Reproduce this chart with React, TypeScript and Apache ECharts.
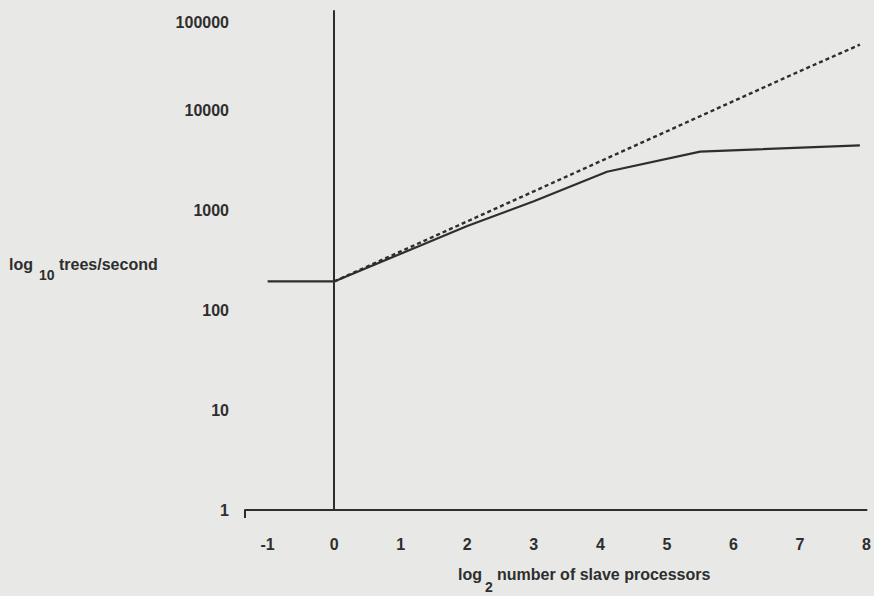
import React, { useEffect, useRef } from "react";
import * as echarts from "echarts";

// log2 number of slave processors
const measuredX = [-1, 0, 1, 2, 3, 4.1, 5.5, 7.9];
// trees/second actually measured (solid)
const measuredY = [195, 195, 370, 700, 1240, 2450, 3900, 4500];
// ideal linear speed-up (dashed)
const idealX = [0, 1, 2, 3, 4, 5, 6, 7, 7.9];
const idealY = [195, 390, 780, 1560, 3120, 6240, 12500, 25000, 46000];

const xTickLabels = [-1, 0, 1, 2, 3, 4, 5, 6, 7, 8];
const yTickLabels = [1, 10, 100, 1000, 10000, 100000];
const dividerX = [0];

const INK = "#2e2e2e";
const BG = "#e8e8e6";
const FONT = "'Liberation Sans', Arial, sans-serif";

export default function App() {
  const ref = useRef<HTMLDivElement>(null);
  useEffect(() => {
    if (!ref.current) return;
    document.body.style.margin = "0";
    document.body.style.background = BG;
    const chart = echarts.init(ref.current, null, { renderer: "svg" });
    const solid = measuredX.map((x, i) => [x, measuredY[i]]);
    const dashed = idealX.map((x, i) => [x, idealY[i]]);
    const txt = (text: string, x: number, y: number, size = 16) => ({
      type: "text",
      left: x,
      top: y,
      style: {
        text,
        fill: INK,
        font: `bold ${size}px ${FONT}`,
      },
    });
    chart.setOption({
      animation: false,
      backgroundColor: BG,
      grid: { left: 245, right: 1, top: 11, bottom: 86, containLabel: false },
      xAxis: {
        type: "value",
        min: -1.34,
        max: 8,
        axisLine: { show: true, lineStyle: { color: INK, width: 2 } },
        axisTick: {
          show: true,
          customValues: [-1.34],
          length: 8,
          lineStyle: { color: INK, width: 2 },
        },
        splitLine: { show: false },
        axisLabel: {
          customValues: xTickLabels,
          margin: 26,
          color: INK,
          fontSize: 16,
          fontWeight: "bold",
          fontFamily: FONT,
          formatter: (v: number) => String(v),
        },
      },
      yAxis: {
        type: "log",
        logBase: 10,
        min: 1,
        max: 100000,
        axisLine: { show: true, lineStyle: { color: INK, width: 2 } },
        axisTick: {
          show: true,
          customValues: [1],
          length: 8,
          lineStyle: { color: INK, width: 2 },
        },
        splitLine: { show: false },
        axisLabel: {
          customValues: yTickLabels,
          margin: 16,
          color: INK,
          fontSize: 16,
          fontWeight: "bold",
          fontFamily: FONT,
          formatter: (v: number) =>
            v === 100000 ? "{top|" + v + "}" : "{n|" + v + "}",
          rich: {
            top: {
              padding: [22, 0, 0, 0],
              color: INK,
              fontSize: 16,
              fontWeight: "bold",
              fontFamily: FONT,
            },
            n: { color: INK, fontSize: 16, fontWeight: "bold", fontFamily: FONT },
          },
        },
      },
      series: [
        {
          type: "line",
          data: solid,
          symbol: "none",
          lineStyle: { color: INK, width: 2.2 },
          markLine: {
            silent: true,
            symbol: "none",
            label: { show: false },
            lineStyle: { color: INK, width: 1.6, type: "solid" },
            data: dividerX.map((x) => ({ xAxis: x })),
          },
        },
        {
          type: "line",
          data: dashed,
          symbol: "none",
          lineStyle: { color: INK, width: 2.4, type: [4, 3] },
        },
      ],
      graphic: [
        txt("log", 9, 256),
        txt("10", 39, 268, 14),
        txt("trees/second", 59, 256),
        txt("log", 458, 566),
        txt("2", 485, 580, 14),
        txt("number of slave processors", 497, 566),
      ],
    });
    return () => chart.dispose();
  }, []);
  return (
    <div
      ref={ref}
      style={{ position: "fixed", left: 0, top: 0, width: 874, height: 596 }}
    />
  );
}
